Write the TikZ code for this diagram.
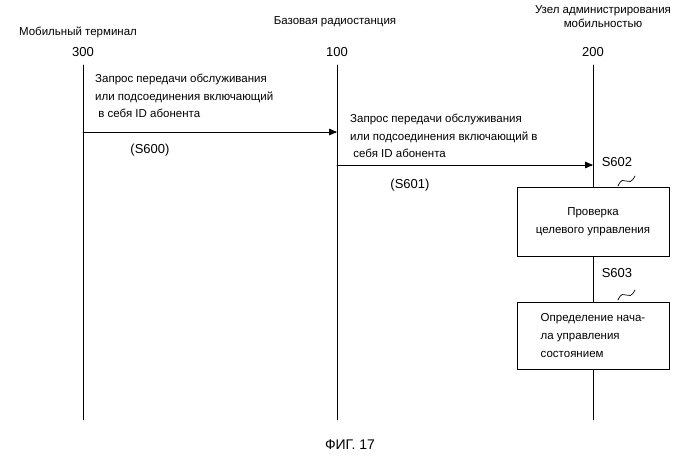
\documentclass[tikz,border=0pt]{standalone}
\usepackage{fontspec}
\setmainfont{Liberation Sans}
\usetikzlibrary{arrows}
\begin{document}
\begin{tikzpicture}[x=1pt,y=-1pt,>=triangle 45,line cap=round,
  lbl/.style={font=\fontsize{11.5}{17}\selectfont,inner sep=0pt},
  num/.style={font=\fontsize{13}{15}\selectfont,inner sep=0pt},
  msg/.style={font=\fontsize{11.5}{17.5}\selectfont,align=left,anchor=north west,inner sep=0pt},
  stepbox/.style={draw,line width=0.8pt,fill=white,minimum width=152pt,font=\fontsize{11.5}{18}\selectfont,inner sep=2pt}]
\useasboundingbox (0,0) rectangle (699,463);
% heads
\node[lbl] (tl) at (78,32) {Мобильный терминал};
\node[lbl] (bl) at (335,22) {Базовая радиостанция};
\node[lbl,align=center,font=\fontsize{11.5}{14}\selectfont] (ul) at (603,17) {Узел администрирования\\мобильностью};
\node[num] (t) at (83,52) {300};
\node[num] (b) at (337,52) {100};
\node[num] (u) at (593,52) {200};
\coordinate (t0) at (83,65); \coordinate (t1) at (83,420);
\coordinate (b0) at (337,65); \coordinate (b1) at (337,420);
\coordinate (u0) at (593,65); \coordinate (u1) at (593,420);
\draw[line width=0.8pt] (t0) -- (t1);
\draw[line width=0.8pt] (b0) -- (b1);
\draw[line width=0.8pt] (u0) -- (u1);
% messages
\coordinate (m1a) at (83,132); \coordinate (m1b) at (337,132);
\draw[->,line width=0.8pt] (m1a) -- (m1b);
\node[msg] (m1) at (95,74) {Запрос передачи обслуживания\\или подсоединения включающий\\\ в себя ID абонента};
\node[num] (s600) at (150,150) {(S600)};
\coordinate (m2a) at (337,165); \coordinate (m2b) at (593,165);
\draw[->,line width=0.8pt] (m2a) -- (m2b);
\node[msg] (m2) at (350,114) {Запрос передачи обслуживания\\или подсоединения включающий в\\\ себя ID абонента};
\node[num] (s601) at (410,185) {(S601)};
% steps
\node[stepbox,minimum height=69pt,align=center] (p1) at (593,222) {Проверка\\целевого управления};
\node[num] (s602) at (617,162) {S602};
\draw[line width=0.7pt] (618,186) .. controls (624,172) and (628,190) .. (635,176);
\node[stepbox,minimum height=67pt,align=left] (p2) at (593,336) {Определение нача-\\ла управления\\состоянием};
\node[num] (s603) at (617,273) {S603};
\draw[line width=0.7pt] (618,300) .. controls (624,286) and (628,304) .. (635,290);
\node[font=\fontsize{14}{16}\selectfont] (cap) at (350,445) {ФИГ. 17};
\end{tikzpicture}
\end{document}
